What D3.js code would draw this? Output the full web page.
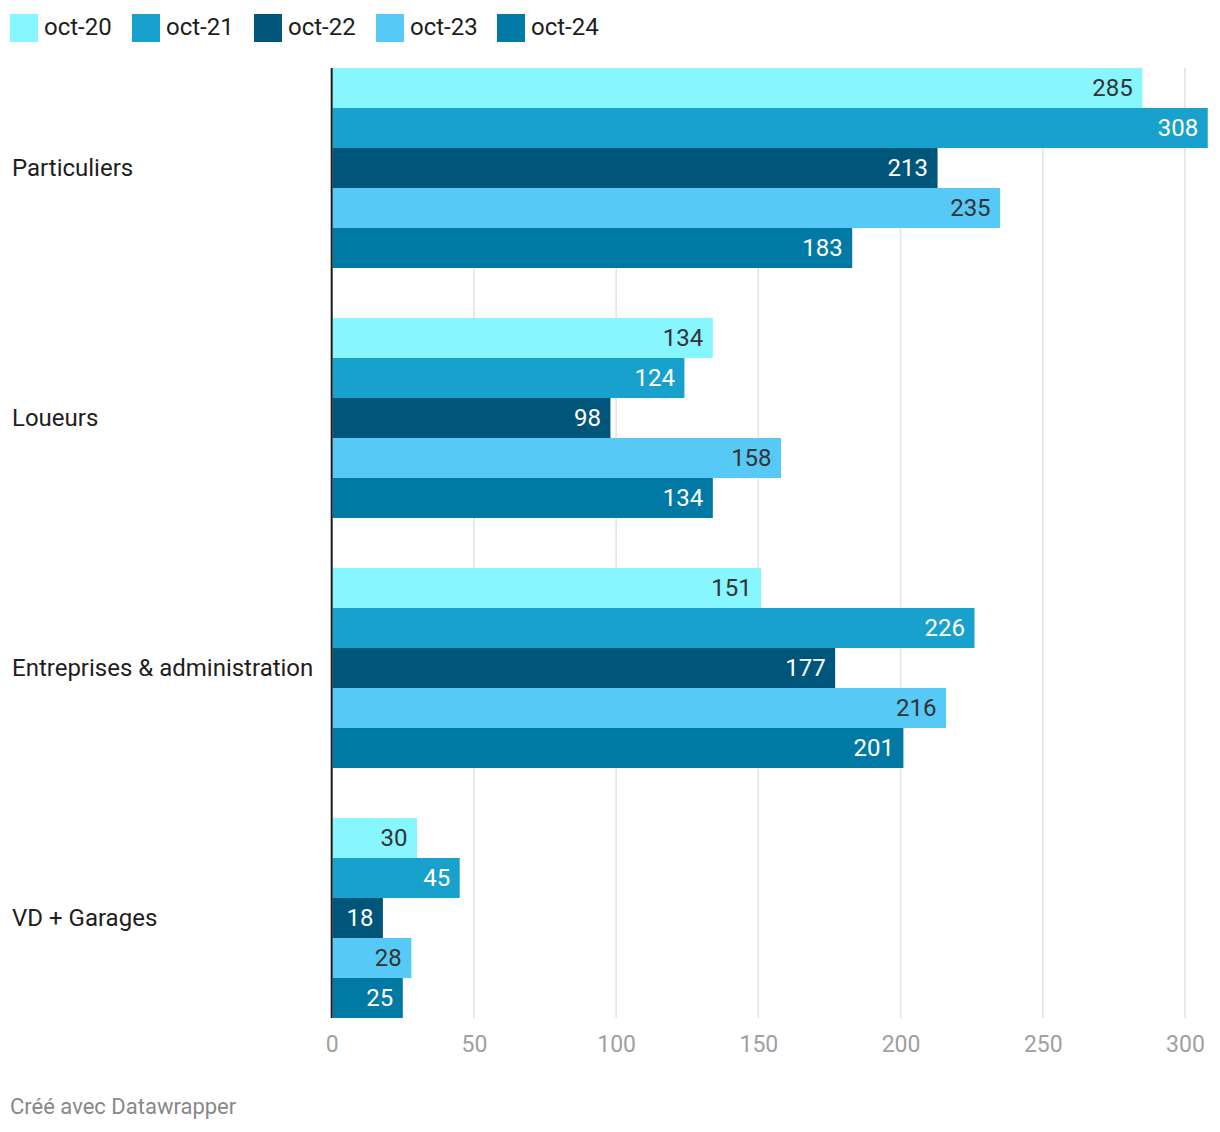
<!DOCTYPE html>
<html>
<head>
<meta charset="utf-8">
<script src="https://cdn.jsdelivr.net/npm/d3@7"></script>
<style>
  body { margin: 0; background: #fff; font-family: Roboto, "Noto Sans", sans-serif; }
  svg { display: block; }
</style>
</head>
<body>
<svg id="chart" width="1220" height="1132"></svg>
<script>
const categories = ["Particuliers", "Loueurs", "Entreprises & administration", "VD + Garages"];
const series = ["oct-20", "oct-21", "oct-22", "oct-23", "oct-24"];
const oct20 = [285, 134, 151, 30];
const oct21 = [308, 124, 226, 45];
const oct22 = [213, 98, 177, 18];
const oct23 = [235, 158, 216, 28];
const oct24 = [183, 134, 201, 25];
const xTicks = [0, 50, 100, 150, 200, 250, 300];

const values = [oct20, oct21, oct22, oct23, oct24];
const colors = ["#88f6ff", "#19a1cd", "#00557b", "#57c9f6", "#0079a5"];
const labelColors = ["#333333", "#ffffff", "#ffffff", "#333333", "#ffffff"];

const svg = d3.select("#chart");
const x = d3.scaleLinear().domain([0, 300]).range([331.7, 1185]);
const y0 = d3.scaleBand().domain(categories).range([68, 1018]).paddingInner(0.2).paddingOuter(0);
const y1 = d3.scaleBand().domain(series).range([0, y0.bandwidth()]).padding(0);

// gridlines
svg.append("g").selectAll("line").data(xTicks.filter(d => d > 0)).join("line")
  .attr("x1", d => x(d)).attr("x2", d => x(d))
  .attr("y1", 68).attr("y2", 1018)
  .attr("stroke", "#e2e2e2").attr("stroke-width", 1.5);

// bars
const rows = [];
categories.forEach((c, i) => series.forEach((s, j) => rows.push({c, s, j, v: values[j][i]})));

const g = svg.append("g");
g.selectAll("rect").data(rows).join("rect")
  .attr("x", x(0) + 1)
  .attr("y", d => y0(d.c) + y1(d.s))
  .attr("width", d => x(d.v) - x(0) - 1)
  .attr("height", y1.bandwidth())
  .attr("fill", d => colors[d.j]);

g.selectAll("text").data(rows).join("text")
  .attr("x", d => x(d.v) - 9.5)
  .attr("y", d => y0(d.c) + y1(d.s) + y1.bandwidth() / 2)
  .attr("dy", "0.33em")
  .attr("text-anchor", "end")
  .attr("font-size", 24)
  .attr("fill", d => labelColors[d.j])
  .text(d => d.v);

// zero axis line
svg.append("line")
  .attr("x1", x(0)).attr("x2", x(0))
  .attr("y1", 68).attr("y2", 1018)
  .attr("stroke", "#1a1a1a").attr("stroke-width", 2);

// category labels
svg.append("g").selectAll("text").data(categories).join("text")
  .attr("x", 12)
  .attr("y", d => y0(d) + y0.bandwidth() / 2)
  .attr("dy", "0.33em")
  .attr("font-size", 24)
  .attr("fill", "#1e1e1e")
  .text(d => d);

// x axis labels
const axis = d3.axisBottom(x).tickValues(xTicks).tickSize(0).tickPadding(0);
const ax = svg.append("g").attr("transform", "translate(0,1036)").call(axis);
ax.select(".domain").remove();
ax.selectAll("text")
  .attr("font-family", "Roboto, 'Noto Sans', sans-serif")
  .attr("font-size", 23)
  .attr("fill", "#a0a0a0")
  .attr("dy", "0.71em");

// legend
const legendX = [10, 132, 254, 376, 497];
const lg = svg.append("g").selectAll("g").data(series).join("g")
  .attr("transform", (d, i) => `translate(${legendX[i]},14)`);
lg.append("rect").attr("width", 28).attr("height", 28).attr("fill", (d, i) => colors[i]);
lg.append("text").attr("x", 34).attr("y", 12.5).attr("dy", "0.36em")
  .attr("font-size", 24).attr("fill", "#1e1e1e").text(d => d);

// footer
svg.append("text").attr("x", 10).attr("y", 1106).attr("dy", "0.36em")
  .attr("font-size", 22).attr("fill", "#888888").text("Créé avec Datawrapper");
</script>
</body>
</html>
